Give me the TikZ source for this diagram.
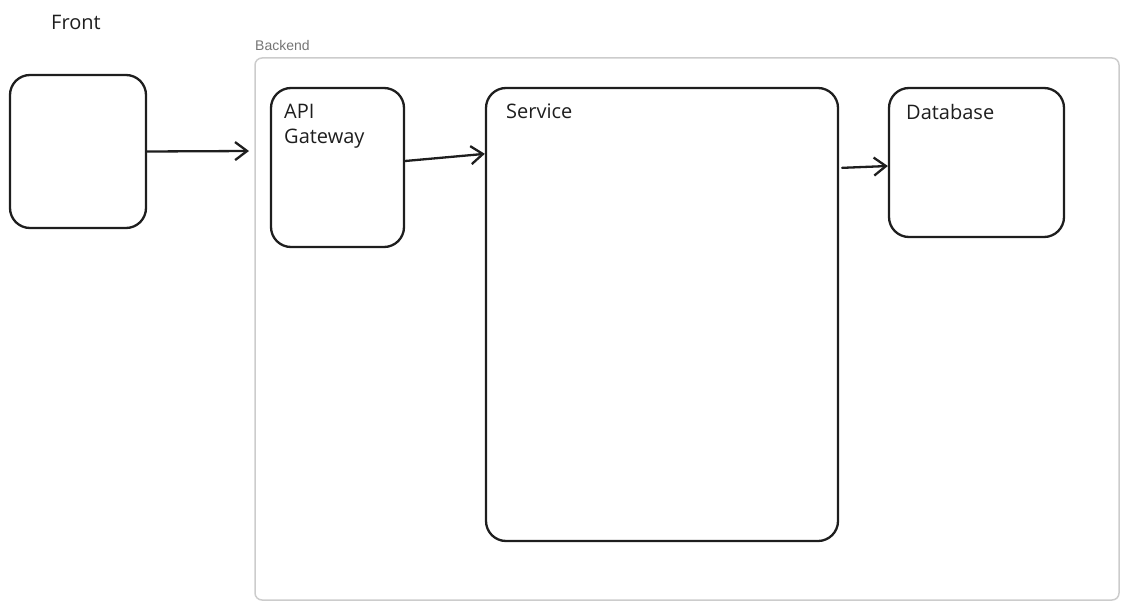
\documentclass[tikz,border=0pt]{standalone}
\usepackage{fontspec}
\setmainfont{Open Sans}
\newfontfamily\labelfont{Liberation Sans}
\usetikzlibrary{arrows.meta}
\definecolor{ink}{HTML}{1E1E1E}
\definecolor{framegray}{HTML}{CCCCCC}
\definecolor{labelgray}{HTML}{757575}
\tikzset{
  sketchbox/.style={draw=ink, line width=2.3pt, rounded corners=20pt, inner sep=0pt},
  framebox/.style={draw=framegray, line width=1.5pt, rounded corners=7pt, inner sep=0pt},
  handtext/.style={font=\fontsize{20}{25}\selectfont, text=ink, inner sep=0pt, align=left},
  arr/.style={draw=ink, line width=2.3pt, line cap=round, -{Straight Barb[length=12pt,width=18pt,line width=2.3pt]}},
}
\begin{document}
\begin{tikzpicture}[x=1pt,y=-1pt]
\useasboundingbox (0,0) rectangle (1129,610);
\node[framebox, minimum width=864pt, minimum height=542pt] (backend) at (687,329) {};
\node[anchor=west, font=\labelfont\fontsize{14}{16}\selectfont, text=labelgray, inner sep=0pt] (backendlbl) at (255,45) {Backend};
\node[handtext] (frontlbl) at (76,22) {Front};
\node[sketchbox, minimum width=136pt, minimum height=153pt] (front) at (78,151.5) {};
\node[sketchbox, minimum width=133pt, minimum height=159pt] (api) at (337.5,167.5) {};
\node[sketchbox, minimum width=352pt, minimum height=453pt] (svc) at (662,314.5) {};
\node[sketchbox, minimum width=175pt, minimum height=149pt] (db) at (976.5,162.5) {};
\node[handtext, anchor=north west] (apilbl) at (284,104) {API\\Gateway};
\node[handtext, anchor=north west] (svclbl) at (506,104) {Service};
\node[handtext, anchor=north west] (dblbl) at (906,104) {Database};
\coordinate (frontend) at (249,151);
\draw[arr] (front.east) -- (frontend);
\draw[arr] ([yshift=6.5pt]api.east) -- ([yshift=-67pt]svc.north west);
\draw[arr] ([xshift=3pt,yshift=-81pt]svc.north east) -- ([yshift=-3.5pt]db.west);
\end{tikzpicture}
\end{document}
